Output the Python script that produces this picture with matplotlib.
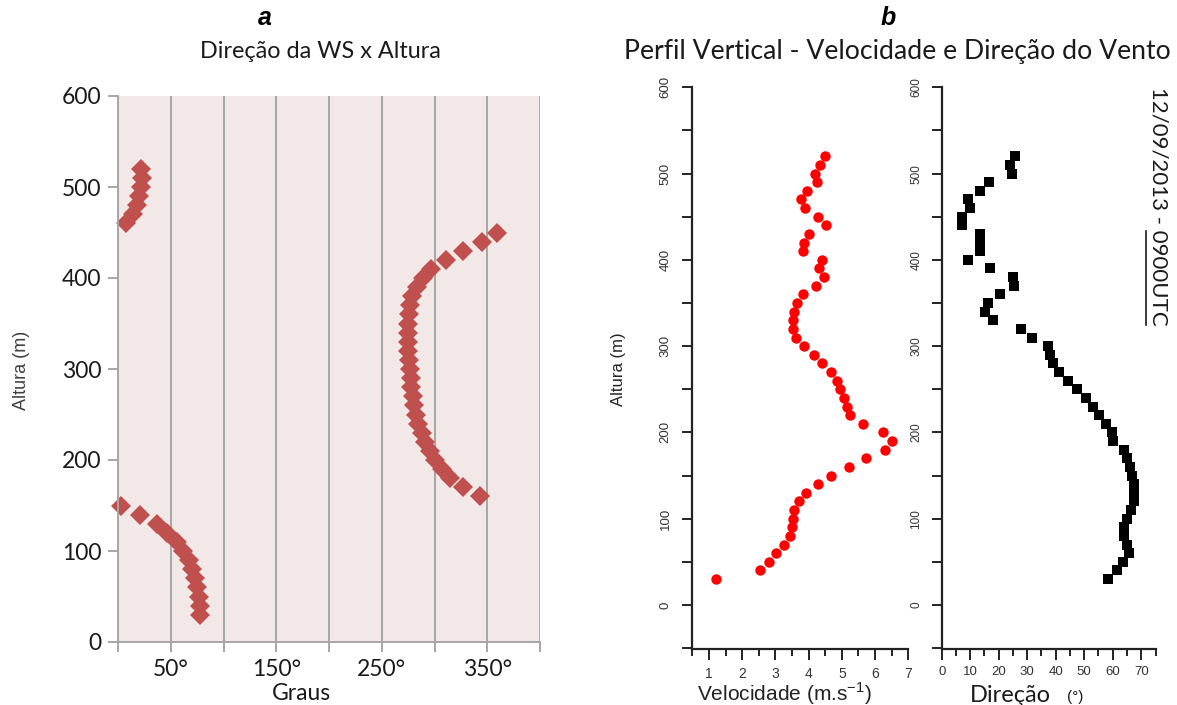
import matplotlib
matplotlib.use('Agg')
from matplotlib import pyplot as plt
from matplotlib.lines import Line2D
from matplotlib.ticker import MultipleLocator
import numpy as np

W, H = 1177, 705

# painel a - direcao do vento (graus) x altura (m), tres trechos
altura_a1 = [30, 40, 50, 60, 70, 80, 90, 100, 110, 120, 130, 140, 150]
graus_a1 = [78, 78, 77, 75, 73, 70, 67, 62, 56, 46, 37, 21, 3]
altura_a2 = [460, 470, 480, 490, 500, 510, 520]
graus_a2 = [8, 14, 18, 20, 21.5, 22.5, 22]
altura_a3 = [160, 170, 180, 190, 200, 210, 220, 230, 240, 250, 260, 270, 280, 290, 300,
             310, 320, 330, 340, 350, 360, 370, 380, 390, 400, 410, 420, 430, 440, 450]
graus_a3 = [343, 327, 315, 307, 300, 296, 291, 288, 284, 282, 281, 280, 278, 278, 277,
            276, 275, 275, 275, 275, 276, 277, 279, 283, 289, 297, 311, 327, 345, 359]
graus_ticks = [0, 50, 100, 150, 200, 250, 300, 350, 400]
graus_labels = ['', '50°', '', '150°', '', '250°', '', '350°', '']

# painel b - perfil vertical (30 a 520 m)
altura_b = [30, 40, 50, 60, 70, 80, 90, 100, 110, 120, 130, 140, 150, 160, 170, 180, 190,
            200, 210, 220, 230, 240, 250, 260, 270, 280, 290, 300, 310, 320, 330, 340, 350,
            360, 370, 380, 390, 400, 410, 420, 430, 440, 450, 460, 470, 480, 490, 500, 510, 520]
velocidade = [1.2, 2.55, 2.8, 3.03, 3.25, 3.45, 3.5, 3.53, 3.57, 3.7, 3.93, 4.27, 4.67, 5.22,
              5.72, 6.3, 6.5, 6.23, 5.65, 5.25, 5.15, 5.05, 4.95, 4.85, 4.67, 4.4, 4.15, 3.85,
              3.63, 3.53, 3.53, 3.55, 3.65, 3.83, 4.23, 4.47, 4.3, 4.4, 3.82, 3.87, 4.02, 4.53,
              4.28, 3.9, 3.77, 3.95, 4.25, 4.2, 4.33, 4.5]
direcao = [58.5, 61.4, 63.7, 65.8, 64.9, 64, 64, 64.9, 66.3, 67.5, 67.5, 67.5, 66.7, 66,
           64.9, 64, 60.2, 59.6, 57.6, 55.3, 53.2, 50.5, 47.4, 44.4, 41, 39.2, 38, 37.4,
           31.6, 27.7, 18.1, 15.2, 16.4, 20.5, 25.5, 24.9, 17, 9.3, 13.4, 13.4, 13.4, 7, 7,
           9.9, 9.3, 13.4, 16.7, 24.5, 24, 25.7]
vel_ticks = [1, 2, 3, 4, 5, 6, 7]
dir_ticks = [0, 10, 20, 30, 40, 50, 60, 70]
alt_ticks_b = [0, 100, 200, 300, 400, 500, 600]


def box(x0, y0, x1, y1):
    """pixel box (top-left origin) -> figure fraction rect"""
    return [x0 / W, 1 - y1 / H, (x1 - x0) / W, (y1 - y0) / H]


def fpos(x, y):
    return x / W, 1 - y / H


def painel_a(fig):
    ax = fig.add_axes(box(118, 96, 540, 642))
    ax.set_facecolor('#F2E8E8')
    for g, a in [(graus_a1, altura_a1), (graus_a2, altura_a2), (graus_a3, altura_a3)]:
        ax.plot(g, a, 'D', color='#C0504D', markersize=10.5, markeredgewidth=0, clip_on=False)
    ax.set_xlim(0, 400)
    ax.set_ylim(0, 600)
    ax.set_xticks(graus_ticks)
    ax.set_xticklabels(graus_labels)
    ax.set_yticks([0, 100, 200, 300, 400, 500, 600])
    ax.grid(axis='x', color='#A6A6A6', linewidth=1.4)
    ax.set_axisbelow(True)
    for s in ['top', 'right']:
        ax.spines[s].set_visible(False)
    for s in ['left', 'bottom']:
        ax.spines[s].set_color('#A6A6A6')
        ax.spines[s].set_linewidth(1.4)
    ax.tick_params(color='#A6A6A6', length=7, width=1.4, labelsize=16.5, labelcolor='#1a1a1a', pad=5)
    for t in ax.get_xticklabels() + ax.get_yticklabels():
        t.set_family('Lato')
    fig.text(*fpos(301, 693), 'Graus', ha='center', va='center', family='Lato',
             fontsize=16.5, color='#1a1a1a')
    fig.text(*fpos(22, 370), 'Altura (m)', rotation=90, ha='center', va='center',
             family='Liberation Sans', fontsize=13, color='#404040')
    fig.text(*fpos(320, 52), 'Direção da WS x Altura', ha='center', va='center',
             family='Lato', fontsize=16.8, color='#1a1a1a')
    fig.text(*fpos(265, 18), 'a', ha='center', va='center', family='Liberation Sans',
             fontsize=18, weight='bold', style='italic')


def eixo_b(ax, xlim):
    ax.set_ylim(-51, 600)
    ax.set_xlim(*xlim)
    for s in ['top', 'right']:
        ax.spines[s].set_visible(False)
    for s in ['left', 'bottom']:
        ax.spines[s].set_linewidth(1.6)
        ax.spines[s].set_color('#222222')
    ax.spines['left'].set_bounds(-51, 600)
    ax.yaxis.set_major_locator(MultipleLocator(100))
    ax.yaxis.set_minor_locator(MultipleLocator(50))
    ax.set_yticks(alt_ticks_b)
    ax.tick_params(axis='y', which='both', length=7, width=1.4, color='#222222')
    ax.tick_params(axis='x', which='major', length=8, width=1.4, color='#222222')
    ax.tick_params(axis='x', which='minor', length=5, width=1.4, color='#222222')
    for t in ax.get_yticklabels():
        t.set_rotation(90)
        t.set_va('center')
        t.set_family('Liberation Sans')
        t.set_color('#333333')


def painel_b(fig):
    # velocidade
    ax1 = fig.add_axes(box(692.3, 87.3, 908.3, 649))
    ax1.plot(velocidade, altura_b, 'o', color='#FF0000', markersize=7.5, markeredgewidth=0)
    eixo_b(ax1, (0.5, 7))
    ax1.set_xticks(vel_ticks)
    ax1.xaxis.set_minor_locator(MultipleLocator(0.5))
    ax1.tick_params(axis='y', labelsize=9.5, pad=8)
    ax1.tick_params(axis='x', labelsize=10, pad=5, labelcolor='#333333')
    for t in ax1.get_xticklabels():
        t.set_family('Liberation Sans')
    fig.text(*fpos(784, 694), 'Velocidade (m.s$^{\\mathregular{-1}}$)', ha='center', va='center',
             family='Liberation Sans', fontsize=15, color='#222222')

    # direcao
    ax2 = fig.add_axes(box(941.7, 87.3, 1155.5, 649))
    ax2.plot(direcao, altura_b, 's', color='black', markersize=7.5, markeredgewidth=0)
    eixo_b(ax2, (0, 75))
    ax2.set_xticks(dir_ticks)
    ax2.xaxis.set_minor_locator(MultipleLocator(5))
    ax2.tick_params(axis='y', labelsize=8.5, pad=7)
    ax2.tick_params(axis='x', labelsize=9.5, pad=4, labelcolor='#333333')
    for t in ax2.get_xticklabels():
        t.set_family('Liberation Sans')
    fig.text(*fpos(1010, 695), 'Direção', ha='center', va='center', family='Lato',
             fontsize=17, color='#1a1a1a')
    fig.text(*fpos(1075, 697), '(°)', ha='center', va='center', family='Liberation Sans',
             fontsize=11, color='#1a1a1a')

    fig.text(*fpos(619, 369), 'Altura (m)', rotation=90, ha='center', va='center',
             family='Liberation Sans', fontsize=12, color='#222222')
    fig.text(*fpos(897, 52), 'Perfil Vertical - Velocidade e Direção do Vento', ha='center',
             va='center', family='Lato', fontsize=19.2, color='#1a1a1a')
    fig.text(*fpos(888, 18), 'b', ha='center', va='center', family='Liberation Sans',
             fontsize=18, weight='bold', style='italic')

    # data / hora, com 0900UTC sublinhado
    fig.text(*fpos(1158, 206), '12/09/2013 - 0900UTC', rotation=-90, ha='center', va='center',
             family='Lato', fontsize=16, color='#1a1a1a')
    x0, y0 = fpos(1146, 231)
    x1, y1 = fpos(1146, 325)
    fig.add_artist(Line2D([x0, x1], [y0, y1], color='#1a1a1a', linewidth=1.2))


def main():
    fig = plt.figure(figsize=(W / 100, H / 100), dpi=100)
    fig.patch.set_facecolor('white')
    painel_a(fig)
    painel_b(fig)
    fig.savefig('out.png', dpi=100)


if __name__ == "__main__":
    main()
